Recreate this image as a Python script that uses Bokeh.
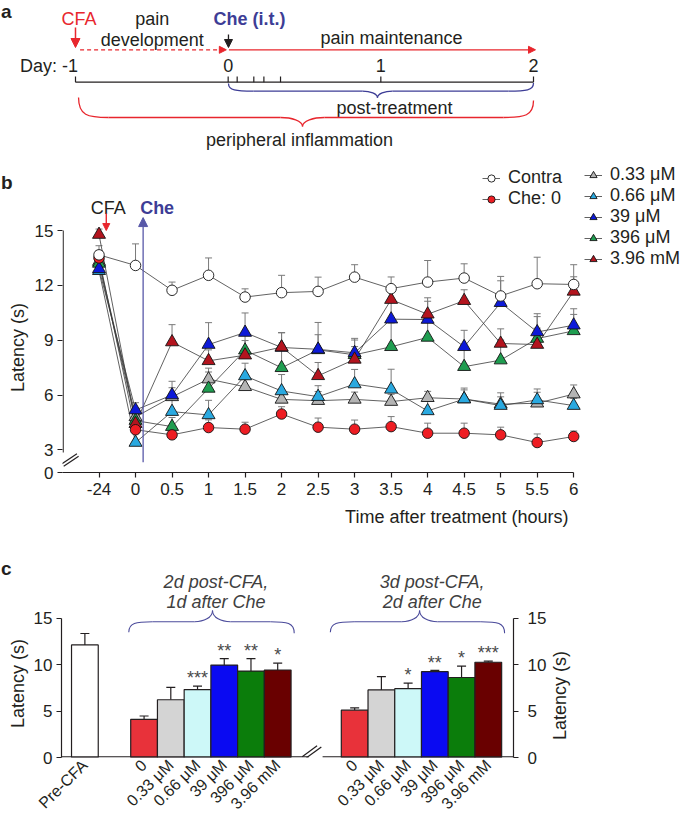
import math
from bokeh.plotting import figure
from bokeh.layouts import column, row
from bokeh.models import (ColumnDataSource, Range1d, FixedTicker, LinearAxis, Whisker,
                          TeeHead, Arrow, NormalHead, Legend, LegendItem)
from bokeh.core.properties import value
from bokeh.embed import file_html
from bokeh.resources import INLINE

FONT = "Liberation Sans"
INK = "#231f20"
RED = "#e8262d"
CHE = "#3d3d96"
W = 685

# ---------------- data: panel a ----------------
day_ticks = [-1, 0, 1, 2]
day_tick_labels = ["Day: -1", "0", "1", "2"]
post_ticks = [0.059, 0.168, 0.234, 0.343]

# ---------------- data: panel b ----------------
time_labels = ["-24", "0", "0.5", "1", "1.5", "2", "2.5", "3", "3.5", "4", "4.5", "5", "5.5", "6"]
latency_ticks = [3, 6, 9, 12, 15]
contra = [13.67, 13.09, 11.73, 12.55, 11.36, 11.6, 11.67, 12.45, 11.82, 12.18, 12.4, 11.42, 12.09, 12.05]
contra_err = [0.5, 1.18, 0.45, 0.95, 0.45, 0.95, 0.78, 0.68, 0.64, 1.18, 0.78, 1.07, 1.45, 1.08]
che_0 = [13.5, 4.1, 3.82, 4.22, 4.13, 4.96, 4.24, 4.13, 4.27, 3.91, 3.91, 3.82, 3.4, 3.73]
che_0_err = [0.4, 0.3, 0.3, 0.42, 0.38, 0.4, 0.5, 0.5, 0.55, 0.55, 0.55, 0.42, 0.47, 0.3]
che_033 = [13.3, 4.8, 5.9, 6.87, 6.45, 5.76, 5.69, 5.76, 5.64, 5.85, 5.78, 5.5, 5.55, 6.05]
che_033_err = [0.4, 0.3, 0.5, 0.6, 0.4, 0.5, 0.5, 0.4, 0.4, 0.35, 0.5, 0.4, 0.6, 0.5]
che_066 = [12.8, 3.4, 5.09, 4.91, 7.04, 6.22, 5.91, 6.6, 6.31, 5.13, 5.78, 5.42, 5.73, 5.42]
che_066_err = [0.3, 0.5, 0.7, 0.8, 0.7, 0.9, 0.6, 0.8, 1.1, 0.6, 0.6, 0.7, 0.6, 0.4]
che_39 = [12.9, 5.18, 6.0, 8.76, 9.42, 8.6, 8.5, 8.31, 10.15, 10.13, 8.64, 11.05, 9.45, 9.82]
che_39_err = [0.4, 0.4, 0.75, 1.2, 1.07, 0.8, 0.8, 0.7, 1.1, 1.0, 0.9, 1.2, 1.0, 0.9]
che_396 = [13.2, 4.6, 4.27, 6.36, 8.45, 7.49, 8.47, 8.2, 8.64, 9.15, 7.55, 7.91, 9.09, 9.51]
che_396_err = [0.4, 0.4, 0.5, 0.9, 1.0, 1.0, 1.5, 0.9, 1.3, 1.0, 1.0, 1.1, 1.2, 0.9]
che_396mM = [14.78, 4.43, 8.9, 7.87, 8.18, 8.62, 7.05, 7.95, 11.22, 10.42, 11.16, 8.82, 8.76, 11.67]
che_396mM_err = [0.3, 0.5, 0.95, 0.6, 0.8, 0.8, 0.73, 0.7, 0.7, 0.9, 0.6, 0.8, 0.9, 0.8]

# ---------------- data: panel c ----------------
bar_labels = ["0", "0.33 μM", "0.66 μM", "39 μM", "396 μM", "3.96 mM"]
bar_colors = ["#e8323a", "#d4d4d4", "#cdf8f8", "#0a0af2", "#0b7d0b", "#690000"]
pre_cfa = [12.15]
pre_cfa_err = [1.23]
day2 = [4.12, 6.23, 7.33, 9.97, 9.33, 9.44]
day2_err = [0.36, 1.34, 0.38, 0.70, 1.34, 0.74]
day2_sig = ["", "", "***", "**", "**", "*"]
day3 = [5.11, 7.29, 7.43, 9.26, 8.63, 10.28]
day3_err = [0.24, 1.44, 0.60, 0.14, 1.23, 0.11]
day3_sig = ["", "", "*", "**", "*", "***"]
group_titles = [["2d post-CFA,", "1d after Che"], ["3d post-CFA,", "2d after Che"]]
bar_ticks = [0, 5, 10, 15]


def txt(p, x, y, s, size="18px", color=INK, style="normal", align="center", baseline="middle", angle=0):
    p.text(x=x, y=y, text=s, text_font=value(FONT), text_font_size=value(size), angle=angle,
           text_color=color, text_font_style=style, text_align=align, text_baseline=baseline)


def brace(p, xl, yl, xr, yr, ym, xt, yt, ae, at, color, width):
    p.bezier(x0=[xl, xt - at, xt, xr - ae], y0=[yl, ym, yt, ym],
             x1=[xl + ae, xt, xt + at, xr], y1=[ym, yt, ym, yr],
             cx0=[xl, xt - 0.5 * at, xt, xr - 0.3 * ae],
             cy0=[yl + 0.9 * (ym - yl), ym, ym + 0.35 * (yt - ym), ym],
             cx1=[xl + 0.3 * ae, xt, xt + 0.5 * at, xr],
             cy1=[ym, ym + 0.35 * (yt - ym), ym, yr + 0.9 * (ym - yr)],
             line_color=color, line_width=width)
    p.segment(x0=[xl + ae, xt + at], y0=[ym, ym], x1=[xt - at, xr - ae], y1=[ym, ym],
              line_color=color, line_width=width)


def base_fig(**kw):
    p = figure(output_backend="svg", toolbar_location=None, frame_align=False, **kw)
    p.outline_line_color = None
    p.background_fill_color = "white"
    p.border_fill_color = "white"
    return p


def blank_fig(width, height, xr, yr):
    p = base_fig(width=width, height=height, x_range=Range1d(*xr), y_range=Range1d(*yr),
                 min_border_left=0, min_border_right=0, min_border_top=0, min_border_bottom=0,
                 x_axis_type=None, y_axis_type=None)
    return p


def style_axis(ax, size="17px"):
    ax.axis_line_color = INK
    ax.axis_line_width = 1.2
    ax.major_tick_line_color = INK
    ax.major_tick_line_width = 1.2
    ax.major_tick_out = 5
    ax.major_tick_in = 0
    ax.minor_tick_line_color = None
    ax.major_label_text_font = FONT
    ax.major_label_text_font_size = size
    ax.major_label_text_color = INK


# =============== panel a (screen px = page px vertically) ===============
PXA = 152.67
pa = blank_fig(W, 150, (-1 - 75 / PXA, 2 + 152 / PXA), (150, 0))
txt(pa, [-1 - 74.5 / PXA], [0.5], ["a"], size="19px", style="bold", align="left", baseline="top")
txt(pa, [-0.977], [18], ["CFA"], color=RED)
txt(pa, [-0.497, -0.497], [18, 39], ["pain", "development"])
txt(pa, [0.14], [18], ["Che (i.t.)"], color=CHE, style="bold")
txt(pa, [1.07], [37], ["pain maintenance"])
txt(pa, [day_ticks[0] + 2.5 / PXA], [65], [day_tick_labels[0]], align="right")
txt(pa, day_ticks[1:], [65] * 3, day_tick_labels[1:])
txt(pa, [1.089], [107], ["post-treatment"])
txt(pa, [0.467], [139], ["peripheral inflammation"])
pa.segment(x0=[day_ticks[0]], y0=[81.7], x1=[day_ticks[-1]], y1=[81.7], line_color=INK, line_width=1.3)
all_t = day_ticks + post_ticks
pa.segment(x0=all_t, y0=[76] * len(all_t), x1=all_t, y1=[81.7] * len(all_t), line_color=INK, line_width=1.2)
pa.add_layout(Arrow(end=NormalHead(size=9, fill_color=RED, line_color=RED, line_width=1),
                    x_start=-1, y_start=27, x_end=-1, y_end=47, line_color=RED, line_width=1.5))
pa.add_layout(Arrow(end=NormalHead(size=7, fill_color=RED, line_color=RED, line_width=1),
                    x_start=-0.97, y_start=49.3, x_end=-0.012, y_end=49.3, line_color=RED,
                    line_width=1.3, line_dash="4 3"))
pa.add_layout(Arrow(end=NormalHead(size=7, fill_color=RED, line_color=RED, line_width=1),
                    x_start=0.005, y_start=49.3, x_end=2.013, y_end=49.3, line_color=RED, line_width=1.3))
pa.add_layout(Arrow(end=NormalHead(size=8, fill_color=INK, line_color=INK, line_width=1),
                    x_start=0.002, y_start=34, x_end=0.002, y_end=47, line_color=INK, line_width=1.3))
brace(pa, 0.002, 83, 2.0, 82.5, 90.7, 0.978, 97.3, 25 / PXA, 15 / PXA, CHE, 1.3)
brace(pa, -0.98, 97, 2.0, 100, 117, 0.487, 126, 30 / PXA, 22 / PXA, RED, 1.3)

# =============== panel b ===============
PXB_X = 36.69
PXB_Y = 18.275
Y0 = 1.76
# left strip (panel letter + y title), page x 0..31, y 150..502
nb = blank_fig(31, 352, (0, 31), (502, 150))
txt(nb, [0.5], [182], ["b"], size="19px", style="bold", align="left")
txt(nb, [17], [347], ["Latency (s)"], angle=math.pi / 2)

pb = base_fig(width=W - 31, height=352, x_range=Range1d(-1, -1 + 626 / PXB_X),
              y_range=Range1d(Y0, Y0 + 322 / PXB_Y),
              min_border_left=28, min_border_right=0, min_border_top=0, min_border_bottom=30)
pb.grid.visible = False
idx = list(range(len(time_labels)))
pb.xaxis.ticker = FixedTicker(ticks=idx)
pb.xaxis.major_label_overrides = {i: s for i, s in zip(idx, time_labels)}
pb.xaxis.bounds = (idx[0] - 1, idx[-1])
pb.yaxis.ticker = FixedTicker(ticks=[Y0] + latency_ticks)
pb.yaxis.major_label_overrides = {Y0: "0"}
pb.yaxis.bounds = (Y0, latency_ticks[-1])
style_axis(pb.xaxis[0])
style_axis(pb.yaxis[0])
pb.yaxis.axis_line_color = None
pb.xaxis.major_label_standoff = 5
pb.yaxis.major_label_standoff = 4
# y axis line (broken below 3)
AXX = -1 + 0.65 / PXB_X
pb.segment(x0=[AXX], y0=[Y0 + 20 / PXB_Y], x1=[AXX], y1=[latency_ticks[-1]], line_color=INK, line_width=1.2)
pb.segment(x0=[-1 - 0.5 / PXB_X, -1 + 1.2 / PXB_X], y0=[2.236, 2.105], x1=[-0.6048, -0.5585], y1=[2.783, 2.652],
           line_color=INK, line_width=1.2)

series = [
    ("Contra", contra, contra_err, "circle", "white", 10.5),
    ("Che: 0", che_0, che_0_err, "circle", "#ee1d23", 10.5),
    ("0.33 μM", che_033, che_033_err, "triangle", "#b4b4b4", 13),
    ("0.66 μM", che_066, che_066_err, "triangle", "#2aa9e0", 13),
    ("39 μM", che_39, che_39_err, "triangle", "#0d1ad8", 13),
    ("396 μM", che_396, che_396_err, "triangle", "#1f9d50", 13),
    ("3.96 mM", che_396mM, che_396mM_err, "triangle", "#b3141e", 13),
]
sources = {}
lines = {}
for name, vals, errs, mk, col, sz in series:
    src = ColumnDataSource(dict(x=idx, y=vals, upper=[v + e for v, e in zip(vals, errs)]))
    sources[name] = src
    pb.add_layout(Whisker(base="x", lower="y", upper="upper", source=src, dimension="height",
                          lower_head=None, upper_head=TeeHead(size=7, line_color="#7a7a7a", line_width=1),
                          line_color="#7a7a7a", line_width=1, level="underlay"))
for name, vals, errs, mk, col, sz in series:
    lines[name] = pb.line("x", "y", source=sources[name], line_color="#3a3a3a", line_width=0.8)
marks = {}
for k in [2, 3, 5, 4, 6, 1, 0]:
    name, vals, errs, mk, col, sz = series[k]
    marks[name] = pb.scatter("x", "y", source=sources[name], marker=mk, size=sz,
                             fill_color=col, line_color="#141414", line_width=0.9)

leg_common = dict(border_line_color=None, background_fill_alpha=0, padding=0, margin=0, spacing=0,
                  glyph_width=18, glyph_height=18, label_standoff=8, label_text_font=FONT,
                  label_text_font_size="18px", label_text_color=INK)
leg1 = Legend(items=[LegendItem(label=series[i][0], renderers=[lines[series[i][0]], marks[series[i][0]]])
                     for i in range(2)], location=(420, 263), **leg_common)
leg2 = Legend(items=[LegendItem(label=series[i][0], renderers=[lines[series[i][0]], marks[series[i][0]]])
                     for i in range(2, 7)], location=(522, 203), **leg_common)
pb.add_layout(leg1)
pb.add_layout(leg2)

pb.add_layout(Arrow(end=NormalHead(size=9, fill_color="#5858a8", line_color="#5858a8", line_width=1),
                    x_start=1.208, y_start=2.32, x_end=1.208, y_end=15.71, line_color="#5858a8", line_width=1.3))
pb.add_layout(Arrow(end=NormalHead(size=7, fill_color=RED, line_color=RED, line_width=1),
                    x_start=0.199, y_start=15.93, x_end=0.199, y_end=15.0, line_color=RED, line_width=1.4))
txt(pb, [0.254], [16.26], ["CFA"])
txt(pb, [1.126], [16.26], ["Che"], color=CHE, style="bold", align="left")

# x title strip, page y 502..528
xt = blank_fig(W, 26, (0, W), (528, 502))
txt(xt, [568], [516], ["Time after treatment (hours)"], align="right")

# =============== panel c ===============
PXC_X = 27.02
PXC_Y = 9.47
nc = blank_fig(30, 293, (0, 30), (821, 528))
txt(nc, [0.5], [568], ["c"], size="19px", style="bold", align="left")
txt(nc, [17], [683], ["Latency (s)"], angle=math.pi / 2)

pc = base_fig(width=519, height=293, x_range=Range1d(0, 457 / PXC_X), y_range=Range1d(0, 234 / PXC_Y),
              min_border_left=28, min_border_right=34, min_border_top=0, min_border_bottom=59)
pc.grid.visible = False
pre_x = [0.875]
g1_x = [3.09 + i for i in range(len(bar_labels))]
g2_x = [10.97 + i for i in range(len(bar_labels))]
all_x = pre_x + g1_x + g2_x
all_lab = ["Pre-CFA"] + bar_labels + bar_labels
pc.xaxis.ticker = FixedTicker(ticks=all_x)
pc.xaxis.major_label_overrides = {x: s for x, s in zip(all_x, all_lab)}
style_axis(pc.xaxis[0], size="16px")
pc.xaxis.axis_line_color = None
pc.xaxis.major_tick_out = 0
pc.xaxis.major_tick_line_color = None
pc.xaxis.major_label_orientation = 0.78
pc.xaxis.major_label_standoff = 5
pc.yaxis.ticker = FixedTicker(ticks=bar_ticks)
pc.yaxis.bounds = (bar_ticks[0], bar_ticks[-1])
style_axis(pc.yaxis[0])
pc.yaxis.major_label_standoff = 4
ry = LinearAxis(ticker=FixedTicker(ticks=bar_ticks), bounds=(bar_ticks[0], bar_ticks[-1]))
style_axis(ry)
ry.major_label_standoff = 9
pc.add_layout(ry, "right")

tops = pre_cfa + day2 + day3
errs = pre_cfa_err + day2_err + day3_err
uppers = [t + e for t, e in zip(tops, errs)]
STAR_GAP = 8 / PXC_Y
bsrc = ColumnDataSource(dict(x=all_x, top=tops, upper=uppers, sig_y=[u + STAR_GAP for u in uppers],
                             color=["white"] + bar_colors + bar_colors, sig=[""] + day2_sig + day3_sig))
pc.add_layout(Whisker(base="x", lower="top", upper="upper", source=bsrc, dimension="height",
                      lower_head=None, upper_head=TeeHead(size=9, line_color=INK, line_width=1.2),
                      line_color=INK, line_width=1.2, level="underlay"))
pc.vbar(x="x", top="top", bottom=0, width=1.0, fill_color="color", line_color=INK, line_width=1.2, source=bsrc)
pc.text(x="x", y="sig_y", text="sig", source=bsrc, text_font=value(FONT), text_font_size=value("18px"),
        text_color="#4a4a4a", text_align="center", text_baseline="alphabetic")
# x axis line with a break
AXY = 0.6 / PXC_Y
pc.segment(x0=[0, 9.77], y0=[AXY, AXY], x1=[9.262, 457 / PXC_X], y1=[AXY, AXY], line_color=INK, line_width=1.2)
pc.segment(x0=[9.008, 9.167], y0=[0.074, -0.032], x1=[9.563, 9.722], y1=[1.267, 1.129], line_color=INK, line_width=1.2)
brace(pc, 2.517, 13.52, 8.708, 13.41, 14.65, 5.651, 15.87, 0.89, 0.67, "#4b4b9b", 1.1)
brace(pc, 10.06, 13.52, 16.58, 13.41, 14.65, 13.40, 15.87, 0.89, 0.67, "#4b4b9b", 1.1)
for cx, (l1, l2) in zip([5.78, 13.87], group_titles):
    txt(pc, [cx, cx], [18.93, 16.76], [l1, l2], color="#404040", style="italic")

rc = blank_fig(W - 30 - 519, 293, (549, W), (821, 528))
txt(rc, [559], [695], ["Latency (s)"], angle=math.pi / 2)

layout = column(pa, row(nb, pb), xt, row(nc, pc, rc))
open("out.html", "w").write(file_html(layout, INLINE, title="Chelerythrine latency"))
